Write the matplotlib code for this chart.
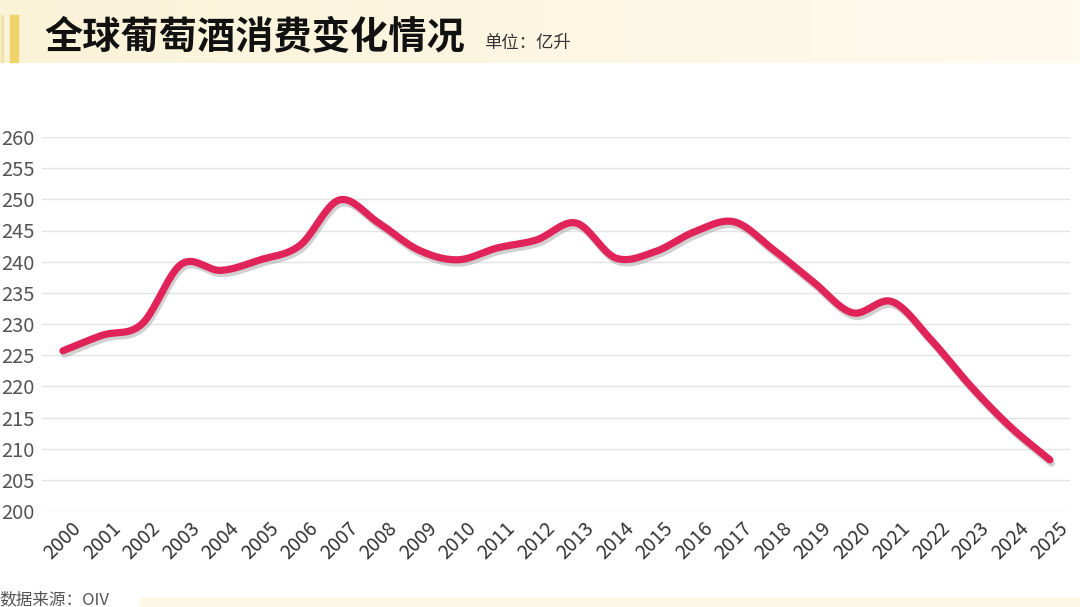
import numpy as np
import matplotlib
matplotlib.use("Agg")
from matplotlib import pyplot as plt
from matplotlib import patheffects as pe
from matplotlib.patches import Rectangle

plt.rcParams['font.family'] = ['Noto Sans CJK SC', 'DejaVu Sans']

years = [str(y) for y in range(2000, 2026)]
consumption = [225.7, 228.2, 230.0, 239.6, 238.6, 240.3, 242.6, 249.9, 246.2, 241.9,
               240.3, 242.2, 243.5, 246.2, 240.6, 241.6, 244.8, 246.4, 241.9, 236.8,
               231.8, 233.6, 227.4, 220.0, 213.5, 208.2]
yticks = list(range(200, 261, 5))
title = "全球葡萄酒消费变化情况"
unit = "单位：亿升"
source = "数据来源：OIV"


def catmull_rom(x, y, n=20):
    # smooth curve through the points, like a charting lib's "smooth" line
    x = np.asarray(x, float)
    y = np.asarray(y, float)
    px = np.concatenate([[2 * x[0] - x[1]], x, [2 * x[-1] - x[-2]]])
    py = np.concatenate([[2 * y[0] - y[1]], y, [2 * y[-1] - y[-2]]])
    xs, ys = [], []
    t = np.linspace(0, 1, n, endpoint=False)
    for i in range(1, len(px) - 2):
        for p, out in ((px, xs), (py, ys)):
            p0, p1, p2, p3 = p[i - 1], p[i], p[i + 1], p[i + 2]
            out.append(0.5 * ((2 * p1) + (-p0 + p2) * t
                              + (2 * p0 - 5 * p1 + 4 * p2 - p3) * t ** 2
                              + (-p0 + 3 * p1 - 3 * p2 + p3) * t ** 3))
    xs.append([x[-1]])
    ys.append([y[-1]])
    return np.concatenate(xs), np.concatenate(ys)


fig = plt.figure(figsize=(10.8, 6.07), dpi=100)
fig.patch.set_facecolor("white")

# header band with a soft fade to the right
bg = fig.add_axes([0, 0, 1, 1], zorder=0)
bg.set_xlim(0, 1080)
bg.set_ylim(607, 0)
bg.axis("off")
grad = np.linspace(0, 1, 256)[None, :]
cmap = matplotlib.colors.LinearSegmentedColormap.from_list("hdr", ["#FAF3D8", "#FCF6E2", "#FEFAEE"])
bg.imshow(grad, extent=[0, 1080, 63, 0], aspect="auto", cmap=cmap, zorder=0)
bg.add_patch(Rectangle((10, 15), 8, 47, color="#EFD46C", zorder=1))
bg.add_patch(Rectangle((1, 15), 2, 47, color="#F3E3A8", zorder=1))
bg.add_patch(Rectangle((140, 598), 940, 9, color="#FDF8E6", zorder=1))
bg.text(44, 37, title, fontsize=27.5, fontweight="bold", color="#111111", va="center", ha="left")
bg.text(484, 43, unit, fontsize=12.5, color="#333333", va="center", ha="left")
bg.text(-1, 600, source, fontsize=12, color="#555555", va="center", ha="left")

ax = fig.add_axes([42 / 1080, 1 - 511 / 607, (1070 - 42) / 1080, (511 - 137) / 607], zorder=2)
ax.patch.set_alpha(0)
x = np.arange(len(years))
sx, sy = catmull_rom(x, consumption)
ax.plot(sx, sy, color="#E0245A", lw=5.2, solid_capstyle="round", zorder=3,
        path_effects=[pe.SimpleLineShadow(offset=(1.2, -2.4), shadow_color="#9a9a9a", alpha=0.45),
                      pe.Normal()])

ax.set_ylim(200, 260)
ax.set_xlim(-0.53, 25.51)
ax.set_yticks(yticks)
ax.set_yticklabels([str(v) for v in yticks], fontsize=14.5, color="#555555")
ax.set_xticks(x)
ax.set_xticklabels(years, fontsize=14, color="#333333", rotation=45, ha="center", va="top")
ax.tick_params(axis="both", length=0)
ax.tick_params(axis="y", pad=5)
ax.tick_params(axis="x", pad=5)
ax.grid(axis="y", color="#E3E3E3", lw=1)
ax.set_axisbelow(True)
for s in ax.spines.values():
    s.set_visible(False)

fig.savefig("out.png", dpi=100)
